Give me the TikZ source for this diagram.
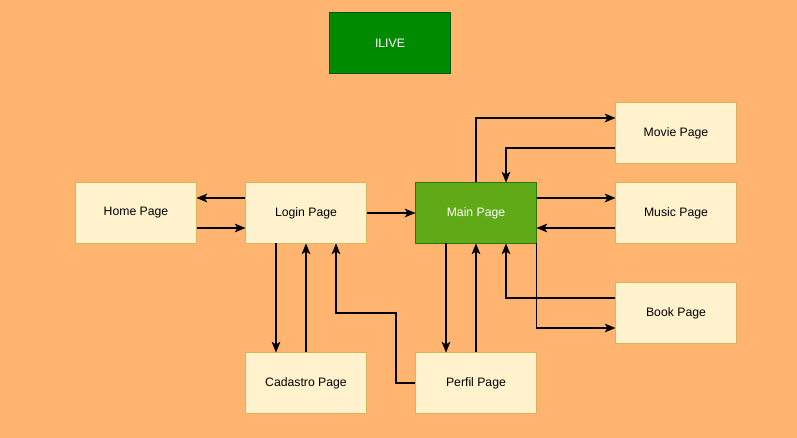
\documentclass[tikz,border=0pt]{standalone}
\usepackage{fontspec}
\setmainfont{Liberation Sans}
\usetikzlibrary{arrows.meta}

\definecolor{bgorange}{HTML}{FFB570}
\definecolor{pagefill}{HTML}{FFF2CC}
\definecolor{pageline}{HTML}{D6B656}
\definecolor{mainfill}{HTML}{60A917}
\definecolor{mainline}{HTML}{2D7600}
\definecolor{titlefill}{HTML}{008A00}
\definecolor{titleline}{HTML}{005700}

\begin{document}
\begin{tikzpicture}[x=0.025cm, y=-0.025cm,
	every node/.style={rectangle, minimum width=3cm, minimum height=1.5cm, inner sep=0pt, font=\fontsize{8.7}{10}\selectfont, line width=0.7pt},
	page/.style={fill=pagefill, draw=pageline},
	arr/.style={-{Stealth[length=0.27cm, width=0.22cm, inset=0.07cm]}, line width=0.75pt, black}]
	
	\fill[bgorange] (0,0) rectangle (797,438);
	
	\node[fill=titlefill, draw=titleline, text=white] (ilive) at (390, 43) {ILIVE};
	\node[page] (home) at (136, 213) {Home Page};
	\node[page] (login) at (306, 213) {Login Page};
	\node[fill=mainfill, draw=mainline, text=white] (main) at (476, 213) {Main Page};
	\node[page] (movie) at (676, 133) {Movie Page};
	\node[page] (music) at (676, 213) {Music Page};
	\node[page] (book) at (676, 313) {Book Page};
	\node[page] (cadastro) at (306, 383) {Cadastro Page};
	\node[page] (perfil) at (476, 383) {Perfil Page};
	\coordinate (bend) at (396, 313);
	
	\draw[arr] ([yshift=0.375cm]login.west) -- ([yshift=0.375cm]home.east);
	\draw[arr] ([yshift=-0.375cm]home.east) -- ([yshift=-0.375cm]login.west);
	\draw[arr] (login.east) -- (main.west);
	\draw[arr] (main.north) |- ([yshift=0.375cm]movie.west);
	\draw[arr] ([yshift=-0.375cm]movie.west) -| ([xshift=0.75cm]main.north);
	\draw[arr] ([yshift=0.375cm]main.east) -- ([yshift=0.375cm]music.west);
	\draw[arr] ([yshift=-0.375cm]music.west) -- ([yshift=-0.375cm]main.east);
	\draw[arr] ([yshift=0.375cm]book.west) -| ([xshift=0.75cm]main.south);
	\draw[arr] (main.south east) |- ([yshift=-0.375cm]book.west);
	\draw[arr] ([xshift=-0.75cm]login.south) -- ([xshift=-0.75cm]cadastro.north);
	\draw[arr] (cadastro.north) -- (login.south);
	\draw[arr] (perfil.west) -| (bend) -| ([xshift=0.75cm]login.south);
	\draw[arr] ([xshift=-0.75cm]main.south) -- ([xshift=-0.75cm]perfil.north);
	\draw[arr] (perfil.north) -- (main.south);
\end{tikzpicture}
\end{document}
